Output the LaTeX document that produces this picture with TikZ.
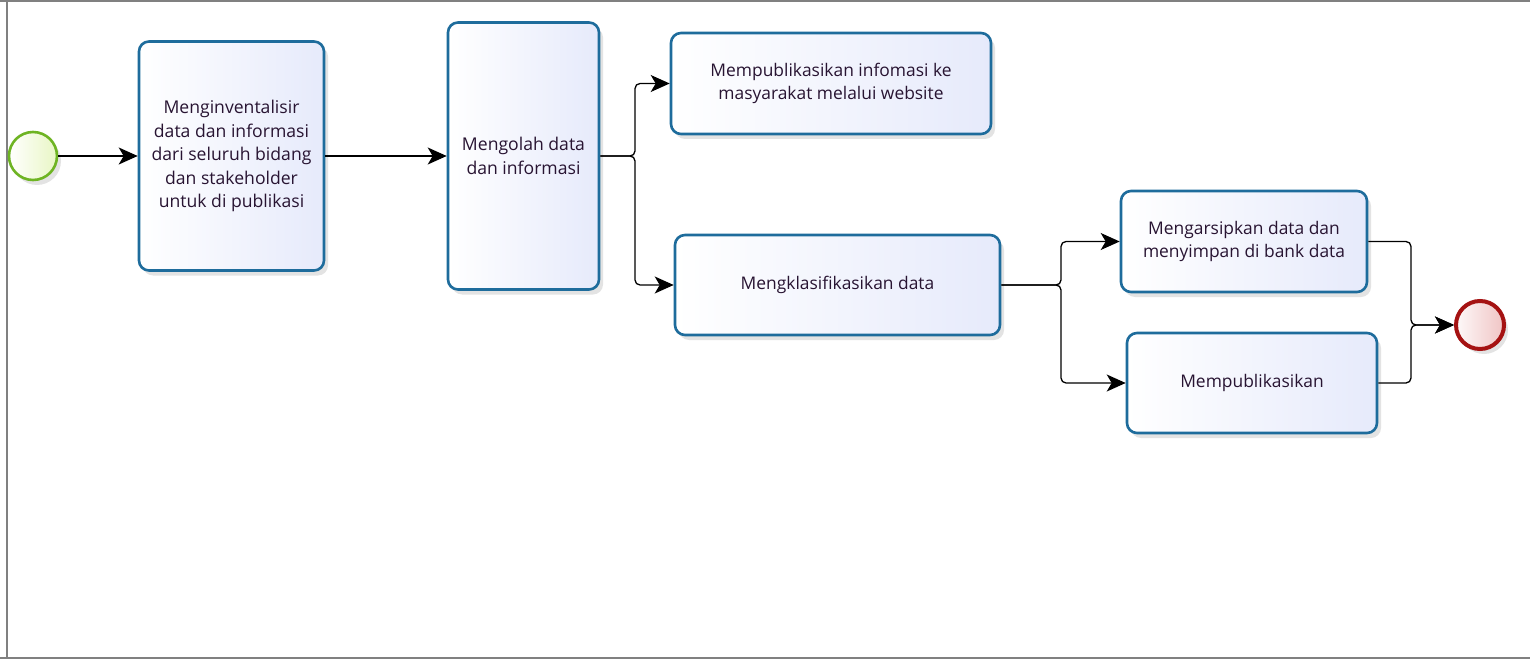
\documentclass[tikz,border=0pt]{standalone}
\usepackage{fontspec}
\setmainfont{Open Sans}
\usetikzlibrary{arrows.meta,shadows}
\definecolor{boxline}{RGB}{30,108,156}
\definecolor{boxfill}{RGB}{230,234,251}
\definecolor{startline}{RGB}{110,180,35}
\definecolor{startfill}{RGB}{232,246,196}
\definecolor{endline}{RGB}{165,18,18}
\definecolor{endfill}{RGB}{240,196,196}
\definecolor{framegray}{RGB}{128,128,128}
\definecolor{textcol}{RGB}{40,20,50}
\tikzset{
  taskbox/.style={draw=boxline, line width=2.6pt, rounded corners=10pt,
    left color=white, right color=boxfill, align=center, inner sep=2pt,
    text=textcol,
    drop shadow={opacity=0.22, shadow xshift=4pt, shadow yshift=-5pt},
    font=\fontsize{17.6}{23.5}\selectfont},
  widebox/.style={taskbox, font=\fontsize{17.4}{23}\selectfont},
  startev/.style={circle, draw=startline, line width=2.6pt, minimum size=48pt,
    inner sep=0pt, left color=white, right color=startfill,
    drop shadow={opacity=0.22, shadow xshift=4pt, shadow yshift=-5pt}},
  endev/.style={circle, draw=endline, line width=4pt, minimum size=48pt,
    inner sep=0pt, left color=white!90!endfill, right color=endfill,
    drop shadow={opacity=0.22, shadow xshift=4pt, shadow yshift=-5pt}},
  flow/.style={draw=black, line width=1.3pt, rounded corners=5pt,
    -{Stealth[length=19pt,width=17pt,inset=5pt]}},
  frameline/.style={draw=framegray, line width=2pt}
}
\begin{document}
\begin{tikzpicture}[x=1pt,y=-1pt]
\useasboundingbox (0,0) rectangle (1530,660);
\fill[white] (0,0) rectangle (1530,660);
\draw[frameline] (0,1.5) -- (1530,1.5);
\draw[frameline] (6.5,0) -- (6.5,657.5);
\draw[frameline] (0,657.5) -- (1530,657.5);

\node[startev] (start) at (33,156) {};
\node[taskbox, minimum width=185pt, minimum height=229pt] (b1) at (231.5,156)
  {Menginventalisir\\data dan informasi\\dari seluruh bidang\\dan stakeholder\\untuk di publikasi};
\node[taskbox, minimum width=151pt, minimum height=267pt] (b2) at (523.5,156)
  {Mengolah data\\dan informasi};
\node[widebox, minimum width=320pt, minimum height=101pt] (b3) at (831,83.5)
  {Mempublikasikan infomasi ke\\masyarakat melalui website};
\node[widebox, minimum width=325pt, minimum height=100pt] (b4) at (837.5,285)
  {Mengklasifikasikan data};
\node[widebox, minimum width=246pt, minimum height=101pt] (b5) at (1244,241.5)
  {Mengarsipkan data dan\\menyimpan di bank data};
\node[widebox, minimum width=250pt, minimum height=100pt] (b6) at (1252,383)
  {Mempublikasikan};
\node[endev] (end) at (1480,325) {};

\coordinate (s1) at (635,156);
\coordinate (s2) at (1061,285);
\coordinate (j1) at (1411,325);

\draw[flow] (start.east) -- (b1.west);
\draw[flow] (b1.east) -- (b2.west);
\draw[flow] (b2.east) -- (s1) |- (b3.west);
\draw[flow] (b2.east) -- (s1) |- (b4.west);
\draw[flow] (b4.east) -- (s2) |- (b5.west);
\draw[flow] (b4.east) -- (s2) |- (b6.west);
\draw[flow] (b5.east) -| (j1) -- (end.west);
\draw[flow] (b6.east) -| (j1) -- (end.west);
\end{tikzpicture}
\end{document}
